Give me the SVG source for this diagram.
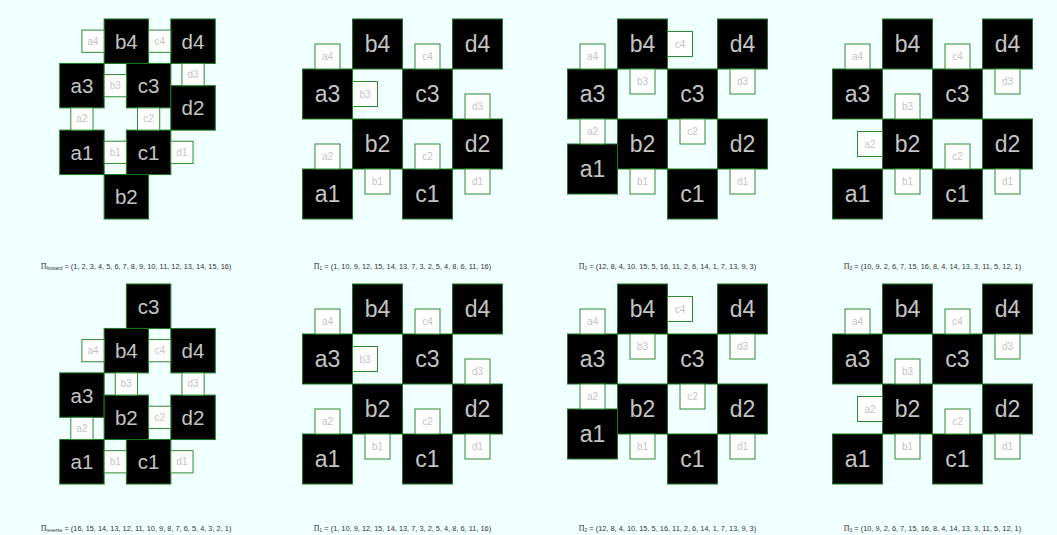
<svg xmlns="http://www.w3.org/2000/svg" width="1057" height="535" viewBox="0 0 1057 535">
<style>
.bg{fill:#f0ffff}
.big{fill:#000;stroke:#1a7a1a;stroke-width:1}
.sm{fill:#fff;stroke:#2f8a2f;stroke-width:1}
text{font-family:"Liberation Sans",Arial,sans-serif}
.bl22{font-size:20.5px;fill:#c4c4c4;text-anchor:middle;dominant-baseline:central}
.bl25{font-size:23px;fill:#c4c4c4;text-anchor:middle;dominant-baseline:central}
.sl{font-size:10px;fill:#c4c4c4;text-anchor:middle;dominant-baseline:central}
.cap{font-size:7.4px;fill:#333;text-anchor:middle}
.pi{font-family:"Liberation Serif","Times New Roman",serif;font-size:8px}
.sub{font-size:4.8px}
</style>
<rect class="bg" x="0" y="0" width="1057" height="535"/>

<!-- Panel A: forward -->
<g id="panel-forward" transform="translate(59.7,19)">
<g id="A-b4" transform="translate(44.44,0)"><rect class="big" width="44.44" height="44.44"/><text class="bl22" x="22.22" y="22.22">b4</text></g>
<g id="A-d4" transform="translate(111.11,0)"><rect class="big" width="44.44" height="44.44"/><text class="bl22" x="22.22" y="22.22">d4</text></g>
<g id="A-a3" transform="translate(0,44.44)"><rect class="big" width="44.44" height="44.44"/><text class="bl22" x="22.22" y="22.22">a3</text></g>
<g id="A-c3" transform="translate(66.67,44.44)"><rect class="big" width="44.44" height="44.44"/><text class="bl22" x="22.22" y="22.22">c3</text></g>
<g id="A-d2" transform="translate(111.11,66.67)"><rect class="big" width="44.44" height="44.44"/><text class="bl22" x="22.22" y="22.22">d2</text></g>
<g id="A-a1" transform="translate(0,111.11)"><rect class="big" width="44.44" height="44.44"/><text class="bl22" x="22.22" y="22.22">a1</text></g>
<g id="A-c1" transform="translate(66.67,111.11)"><rect class="big" width="44.44" height="44.44"/><text class="bl22" x="22.22" y="22.22">c1</text></g>
<g id="A-b2" transform="translate(44.44,155.56)"><rect class="big" width="44.44" height="44.44"/><text class="bl22" x="22.22" y="22.22">b2</text></g>
<g id="A-a4" transform="translate(22.22,11.11)"><rect class="sm" width="22.22" height="22.22"/><text class="sl" x="11.11" y="11.11">a4</text></g>
<g id="A-c4" transform="translate(88.89,11.11)"><rect class="sm" width="22.22" height="22.22"/><text class="sl" x="11.11" y="11.11">c4</text></g>
<g id="A-b3" transform="translate(44.44,55.56)"><rect class="sm" width="22.22" height="22.22"/><text class="sl" x="11.11" y="11.11">b3</text></g>
<g id="A-d3" transform="translate(122.22,44.44)"><rect class="sm" width="22.22" height="22.22"/><text class="sl" x="11.11" y="11.11">d3</text></g>
<g id="A-a2" transform="translate(11.11,88.89)"><rect class="sm" width="22.22" height="22.22"/><text class="sl" x="11.11" y="11.11">a2</text></g>
<g id="A-c2" transform="translate(77.78,88.89)"><rect class="sm" width="22.22" height="22.22"/><text class="sl" x="11.11" y="11.11">c2</text></g>
<g id="A-b1" transform="translate(44.44,122.22)"><rect class="sm" width="22.22" height="22.22"/><text class="sl" x="11.11" y="11.11">b1</text></g>
<g id="A-d1" transform="translate(111.11,122.22)"><rect class="sm" width="22.22" height="22.22"/><text class="sl" x="11.11" y="11.11">d1</text></g>
</g>

<!-- Panel E: reverse -->
<g id="panel-reverse" transform="translate(59.7,284)">
<g id="E-c3" transform="translate(66.67,0)"><rect class="big" width="44.44" height="44.44"/><text class="bl22" x="22.22" y="22.22">c3</text></g>
<g id="E-b4" transform="translate(44.44,44.44)"><rect class="big" width="44.44" height="44.44"/><text class="bl22" x="22.22" y="22.22">b4</text></g>
<g id="E-d4" transform="translate(111.11,44.44)"><rect class="big" width="44.44" height="44.44"/><text class="bl22" x="22.22" y="22.22">d4</text></g>
<g id="E-a3" transform="translate(0,88.89)"><rect class="big" width="44.44" height="44.44"/><text class="bl22" x="22.22" y="22.22">a3</text></g>
<g id="E-b2" transform="translate(44.44,111.11)"><rect class="big" width="44.44" height="44.44"/><text class="bl22" x="22.22" y="22.22">b2</text></g>
<g id="E-d2" transform="translate(111.11,111.11)"><rect class="big" width="44.44" height="44.44"/><text class="bl22" x="22.22" y="22.22">d2</text></g>
<g id="E-a1" transform="translate(0,155.56)"><rect class="big" width="44.44" height="44.44"/><text class="bl22" x="22.22" y="22.22">a1</text></g>
<g id="E-c1" transform="translate(66.67,155.56)"><rect class="big" width="44.44" height="44.44"/><text class="bl22" x="22.22" y="22.22">c1</text></g>
<g id="E-a4" transform="translate(22.22,55.56)"><rect class="sm" width="22.22" height="22.22"/><text class="sl" x="11.11" y="11.11">a4</text></g>
<g id="E-c4" transform="translate(88.89,55.56)"><rect class="sm" width="22.22" height="22.22"/><text class="sl" x="11.11" y="11.11">c4</text></g>
<g id="E-b3" transform="translate(55.56,88.89)"><rect class="sm" width="22.22" height="22.22"/><text class="sl" x="11.11" y="11.11">b3</text></g>
<g id="E-d3" transform="translate(122.22,88.89)"><rect class="sm" width="22.22" height="22.22"/><text class="sl" x="11.11" y="11.11">d3</text></g>
<g id="E-c2" transform="translate(88.89,122.22)"><rect class="sm" width="22.22" height="22.22"/><text class="sl" x="11.11" y="11.11">c2</text></g>
<g id="E-a2" transform="translate(11.11,133.33)"><rect class="sm" width="22.22" height="22.22"/><text class="sl" x="11.11" y="11.11">a2</text></g>
<g id="E-b1" transform="translate(44.44,166.67)"><rect class="sm" width="22.22" height="22.22"/><text class="sl" x="11.11" y="11.11">b1</text></g>
<g id="E-d1" transform="translate(111.11,166.67)"><rect class="sm" width="22.22" height="22.22"/><text class="sl" x="11.11" y="11.11">d1</text></g>
</g>

<!-- Panels B/F: Pi1 -->
<g id="panel-pi1-top" transform="translate(302.5,19)">
<g id="B-b4" transform="translate(50,0)"><rect class="big" width="50" height="50"/><text class="bl25" x="25" y="25">b4</text></g>
<g id="B-d4" transform="translate(150,0)"><rect class="big" width="50" height="50"/><text class="bl25" x="25" y="25">d4</text></g>
<g id="B-a3" transform="translate(0,50)"><rect class="big" width="50" height="50"/><text class="bl25" x="25" y="25">a3</text></g>
<g id="B-c3" transform="translate(100,50)"><rect class="big" width="50" height="50"/><text class="bl25" x="25" y="25">c3</text></g>
<g id="B-b2" transform="translate(50,100)"><rect class="big" width="50" height="50"/><text class="bl25" x="25" y="25">b2</text></g>
<g id="B-d2" transform="translate(150,100)"><rect class="big" width="50" height="50"/><text class="bl25" x="25" y="25">d2</text></g>
<g id="B-a1" transform="translate(0,150)"><rect class="big" width="50" height="50"/><text class="bl25" x="25" y="25">a1</text></g>
<g id="B-c1" transform="translate(100,150)"><rect class="big" width="50" height="50"/><text class="bl25" x="25" y="25">c1</text></g>
<g id="B-a4" transform="translate(12.5,25)"><rect class="sm" width="25" height="25"/><text class="sl" x="12.5" y="12.5">a4</text></g>
<g id="B-c4" transform="translate(112.5,25)"><rect class="sm" width="25" height="25"/><text class="sl" x="12.5" y="12.5">c4</text></g>
<g id="B-b3" transform="translate(50,62.5)"><rect class="sm" width="25" height="25"/><text class="sl" x="12.5" y="12.5">b3</text></g>
<g id="B-d3" transform="translate(162.5,75)"><rect class="sm" width="25" height="25"/><text class="sl" x="12.5" y="12.5">d3</text></g>
<g id="B-a2" transform="translate(12.5,125)"><rect class="sm" width="25" height="25"/><text class="sl" x="12.5" y="12.5">a2</text></g>
<g id="B-c2" transform="translate(112.5,125)"><rect class="sm" width="25" height="25"/><text class="sl" x="12.5" y="12.5">c2</text></g>
<g id="B-b1" transform="translate(62.5,150)"><rect class="sm" width="25" height="25"/><text class="sl" x="12.5" y="12.5">b1</text></g>
<g id="B-d1" transform="translate(162.5,150)"><rect class="sm" width="25" height="25"/><text class="sl" x="12.5" y="12.5">d1</text></g>
</g>
<g id="panel-pi1-bottom" transform="translate(302.5,284)">
<g id="F-b4" transform="translate(50,0)"><rect class="big" width="50" height="50"/><text class="bl25" x="25" y="25">b4</text></g>
<g id="F-d4" transform="translate(150,0)"><rect class="big" width="50" height="50"/><text class="bl25" x="25" y="25">d4</text></g>
<g id="F-a3" transform="translate(0,50)"><rect class="big" width="50" height="50"/><text class="bl25" x="25" y="25">a3</text></g>
<g id="F-c3" transform="translate(100,50)"><rect class="big" width="50" height="50"/><text class="bl25" x="25" y="25">c3</text></g>
<g id="F-b2" transform="translate(50,100)"><rect class="big" width="50" height="50"/><text class="bl25" x="25" y="25">b2</text></g>
<g id="F-d2" transform="translate(150,100)"><rect class="big" width="50" height="50"/><text class="bl25" x="25" y="25">d2</text></g>
<g id="F-a1" transform="translate(0,150)"><rect class="big" width="50" height="50"/><text class="bl25" x="25" y="25">a1</text></g>
<g id="F-c1" transform="translate(100,150)"><rect class="big" width="50" height="50"/><text class="bl25" x="25" y="25">c1</text></g>
<g id="F-a4" transform="translate(12.5,25)"><rect class="sm" width="25" height="25"/><text class="sl" x="12.5" y="12.5">a4</text></g>
<g id="F-c4" transform="translate(112.5,25)"><rect class="sm" width="25" height="25"/><text class="sl" x="12.5" y="12.5">c4</text></g>
<g id="F-b3" transform="translate(50,62.5)"><rect class="sm" width="25" height="25"/><text class="sl" x="12.5" y="12.5">b3</text></g>
<g id="F-d3" transform="translate(162.5,75)"><rect class="sm" width="25" height="25"/><text class="sl" x="12.5" y="12.5">d3</text></g>
<g id="F-a2" transform="translate(12.5,125)"><rect class="sm" width="25" height="25"/><text class="sl" x="12.5" y="12.5">a2</text></g>
<g id="F-c2" transform="translate(112.5,125)"><rect class="sm" width="25" height="25"/><text class="sl" x="12.5" y="12.5">c2</text></g>
<g id="F-b1" transform="translate(62.5,150)"><rect class="sm" width="25" height="25"/><text class="sl" x="12.5" y="12.5">b1</text></g>
<g id="F-d1" transform="translate(162.5,150)"><rect class="sm" width="25" height="25"/><text class="sl" x="12.5" y="12.5">d1</text></g>
</g>

<!-- Panels C/G: Pi2 -->
<g id="panel-pi2-top" transform="translate(567.5,19)">
<g id="C-b4" transform="translate(50,0)"><rect class="big" width="50" height="50"/><text class="bl25" x="25" y="25">b4</text></g>
<g id="C-d4" transform="translate(150,0)"><rect class="big" width="50" height="50"/><text class="bl25" x="25" y="25">d4</text></g>
<g id="C-a3" transform="translate(0,50)"><rect class="big" width="50" height="50"/><text class="bl25" x="25" y="25">a3</text></g>
<g id="C-c3" transform="translate(100,50)"><rect class="big" width="50" height="50"/><text class="bl25" x="25" y="25">c3</text></g>
<g id="C-b2" transform="translate(50,100)"><rect class="big" width="50" height="50"/><text class="bl25" x="25" y="25">b2</text></g>
<g id="C-d2" transform="translate(150,100)"><rect class="big" width="50" height="50"/><text class="bl25" x="25" y="25">d2</text></g>
<g id="C-a1" transform="translate(0,125)"><rect class="big" width="50" height="50"/><text class="bl25" x="25" y="25">a1</text></g>
<g id="C-c1" transform="translate(100,150)"><rect class="big" width="50" height="50"/><text class="bl25" x="25" y="25">c1</text></g>
<g id="C-a4" transform="translate(12.5,25)"><rect class="sm" width="25" height="25"/><text class="sl" x="12.5" y="12.5">a4</text></g>
<g id="C-c4" transform="translate(100,12.5)"><rect class="sm" width="25" height="25"/><text class="sl" x="12.5" y="12.5">c4</text></g>
<g id="C-b3" transform="translate(62.5,50)"><rect class="sm" width="25" height="25"/><text class="sl" x="12.5" y="12.5">b3</text></g>
<g id="C-d3" transform="translate(162.5,50)"><rect class="sm" width="25" height="25"/><text class="sl" x="12.5" y="12.5">d3</text></g>
<g id="C-a2" transform="translate(12.5,100)"><rect class="sm" width="25" height="25"/><text class="sl" x="12.5" y="12.5">a2</text></g>
<g id="C-c2" transform="translate(112.5,100)"><rect class="sm" width="25" height="25"/><text class="sl" x="12.5" y="12.5">c2</text></g>
<g id="C-b1" transform="translate(62.5,150)"><rect class="sm" width="25" height="25"/><text class="sl" x="12.5" y="12.5">b1</text></g>
<g id="C-d1" transform="translate(162.5,150)"><rect class="sm" width="25" height="25"/><text class="sl" x="12.5" y="12.5">d1</text></g>
</g>
<g id="panel-pi2-bottom" transform="translate(567.5,284)">
<g id="G-b4" transform="translate(50,0)"><rect class="big" width="50" height="50"/><text class="bl25" x="25" y="25">b4</text></g>
<g id="G-d4" transform="translate(150,0)"><rect class="big" width="50" height="50"/><text class="bl25" x="25" y="25">d4</text></g>
<g id="G-a3" transform="translate(0,50)"><rect class="big" width="50" height="50"/><text class="bl25" x="25" y="25">a3</text></g>
<g id="G-c3" transform="translate(100,50)"><rect class="big" width="50" height="50"/><text class="bl25" x="25" y="25">c3</text></g>
<g id="G-b2" transform="translate(50,100)"><rect class="big" width="50" height="50"/><text class="bl25" x="25" y="25">b2</text></g>
<g id="G-d2" transform="translate(150,100)"><rect class="big" width="50" height="50"/><text class="bl25" x="25" y="25">d2</text></g>
<g id="G-a1" transform="translate(0,125)"><rect class="big" width="50" height="50"/><text class="bl25" x="25" y="25">a1</text></g>
<g id="G-c1" transform="translate(100,150)"><rect class="big" width="50" height="50"/><text class="bl25" x="25" y="25">c1</text></g>
<g id="G-a4" transform="translate(12.5,25)"><rect class="sm" width="25" height="25"/><text class="sl" x="12.5" y="12.5">a4</text></g>
<g id="G-c4" transform="translate(100,12.5)"><rect class="sm" width="25" height="25"/><text class="sl" x="12.5" y="12.5">c4</text></g>
<g id="G-b3" transform="translate(62.5,50)"><rect class="sm" width="25" height="25"/><text class="sl" x="12.5" y="12.5">b3</text></g>
<g id="G-d3" transform="translate(162.5,50)"><rect class="sm" width="25" height="25"/><text class="sl" x="12.5" y="12.5">d3</text></g>
<g id="G-a2" transform="translate(12.5,100)"><rect class="sm" width="25" height="25"/><text class="sl" x="12.5" y="12.5">a2</text></g>
<g id="G-c2" transform="translate(112.5,100)"><rect class="sm" width="25" height="25"/><text class="sl" x="12.5" y="12.5">c2</text></g>
<g id="G-b1" transform="translate(62.5,150)"><rect class="sm" width="25" height="25"/><text class="sl" x="12.5" y="12.5">b1</text></g>
<g id="G-d1" transform="translate(162.5,150)"><rect class="sm" width="25" height="25"/><text class="sl" x="12.5" y="12.5">d1</text></g>
</g>

<!-- Panels D/H: Pi3 -->
<g id="panel-pi3-top" transform="translate(832.5,19)">
<g id="D-b4" transform="translate(50,0)"><rect class="big" width="50" height="50"/><text class="bl25" x="25" y="25">b4</text></g>
<g id="D-d4" transform="translate(150,0)"><rect class="big" width="50" height="50"/><text class="bl25" x="25" y="25">d4</text></g>
<g id="D-a3" transform="translate(0,50)"><rect class="big" width="50" height="50"/><text class="bl25" x="25" y="25">a3</text></g>
<g id="D-c3" transform="translate(100,50)"><rect class="big" width="50" height="50"/><text class="bl25" x="25" y="25">c3</text></g>
<g id="D-b2" transform="translate(50,100)"><rect class="big" width="50" height="50"/><text class="bl25" x="25" y="25">b2</text></g>
<g id="D-d2" transform="translate(150,100)"><rect class="big" width="50" height="50"/><text class="bl25" x="25" y="25">d2</text></g>
<g id="D-a1" transform="translate(0,150)"><rect class="big" width="50" height="50"/><text class="bl25" x="25" y="25">a1</text></g>
<g id="D-c1" transform="translate(100,150)"><rect class="big" width="50" height="50"/><text class="bl25" x="25" y="25">c1</text></g>
<g id="D-a4" transform="translate(12.5,25)"><rect class="sm" width="25" height="25"/><text class="sl" x="12.5" y="12.5">a4</text></g>
<g id="D-c4" transform="translate(112.5,25)"><rect class="sm" width="25" height="25"/><text class="sl" x="12.5" y="12.5">c4</text></g>
<g id="D-d3" transform="translate(162.5,50)"><rect class="sm" width="25" height="25"/><text class="sl" x="12.5" y="12.5">d3</text></g>
<g id="D-b3" transform="translate(62.5,75)"><rect class="sm" width="25" height="25"/><text class="sl" x="12.5" y="12.5">b3</text></g>
<g id="D-a2" transform="translate(25,112.5)"><rect class="sm" width="25" height="25"/><text class="sl" x="12.5" y="12.5">a2</text></g>
<g id="D-c2" transform="translate(112.5,125)"><rect class="sm" width="25" height="25"/><text class="sl" x="12.5" y="12.5">c2</text></g>
<g id="D-b1" transform="translate(62.5,150)"><rect class="sm" width="25" height="25"/><text class="sl" x="12.5" y="12.5">b1</text></g>
<g id="D-d1" transform="translate(162.5,150)"><rect class="sm" width="25" height="25"/><text class="sl" x="12.5" y="12.5">d1</text></g>
</g>
<g id="panel-pi3-bottom" transform="translate(832.5,284)">
<g id="H-b4" transform="translate(50,0)"><rect class="big" width="50" height="50"/><text class="bl25" x="25" y="25">b4</text></g>
<g id="H-d4" transform="translate(150,0)"><rect class="big" width="50" height="50"/><text class="bl25" x="25" y="25">d4</text></g>
<g id="H-a3" transform="translate(0,50)"><rect class="big" width="50" height="50"/><text class="bl25" x="25" y="25">a3</text></g>
<g id="H-c3" transform="translate(100,50)"><rect class="big" width="50" height="50"/><text class="bl25" x="25" y="25">c3</text></g>
<g id="H-b2" transform="translate(50,100)"><rect class="big" width="50" height="50"/><text class="bl25" x="25" y="25">b2</text></g>
<g id="H-d2" transform="translate(150,100)"><rect class="big" width="50" height="50"/><text class="bl25" x="25" y="25">d2</text></g>
<g id="H-a1" transform="translate(0,150)"><rect class="big" width="50" height="50"/><text class="bl25" x="25" y="25">a1</text></g>
<g id="H-c1" transform="translate(100,150)"><rect class="big" width="50" height="50"/><text class="bl25" x="25" y="25">c1</text></g>
<g id="H-a4" transform="translate(12.5,25)"><rect class="sm" width="25" height="25"/><text class="sl" x="12.5" y="12.5">a4</text></g>
<g id="H-c4" transform="translate(112.5,25)"><rect class="sm" width="25" height="25"/><text class="sl" x="12.5" y="12.5">c4</text></g>
<g id="H-d3" transform="translate(162.5,50)"><rect class="sm" width="25" height="25"/><text class="sl" x="12.5" y="12.5">d3</text></g>
<g id="H-b3" transform="translate(62.5,75)"><rect class="sm" width="25" height="25"/><text class="sl" x="12.5" y="12.5">b3</text></g>
<g id="H-a2" transform="translate(25,112.5)"><rect class="sm" width="25" height="25"/><text class="sl" x="12.5" y="12.5">a2</text></g>
<g id="H-c2" transform="translate(112.5,125)"><rect class="sm" width="25" height="25"/><text class="sl" x="12.5" y="12.5">c2</text></g>
<g id="H-b1" transform="translate(62.5,150)"><rect class="sm" width="25" height="25"/><text class="sl" x="12.5" y="12.5">b1</text></g>
<g id="H-d1" transform="translate(162.5,150)"><rect class="sm" width="25" height="25"/><text class="sl" x="12.5" y="12.5">d1</text></g>
</g>

<!-- Captions -->
<g id="captions">
<text class="cap" x="136" y="268.5"><tspan class="pi">Π</tspan><tspan class="sub" dy="1.5">forward</tspan><tspan dy="-1.5"> = (1, 2, 3, 4, 5, 6, 7, 8, 9, 10, 11, 12, 13, 14, 15, 16)</tspan></text>
<text class="cap" x="402.5" y="268.5"><tspan class="pi">Π</tspan><tspan class="sub" dy="1.5">1</tspan><tspan dy="-1.5"> = (1, 10, 9, 12, 15, 14, 13, 7, 3, 2, 5, 4, 8, 6, 11, 16)</tspan></text>
<text class="cap" x="667.5" y="268.5"><tspan class="pi">Π</tspan><tspan class="sub" dy="1.5">2</tspan><tspan dy="-1.5"> = (12, 8, 4, 10, 15, 5, 16, 11, 2, 6, 14, 1, 7, 13, 9, 3)</tspan></text>
<text class="cap" x="932.5" y="268.5"><tspan class="pi">Π</tspan><tspan class="sub" dy="1.5">3</tspan><tspan dy="-1.5"> = (10, 9, 2, 6, 7, 15, 16, 8, 4, 14, 13, 3, 11, 5, 12, 1)</tspan></text>
<text class="cap" x="136" y="530.5"><tspan class="pi">Π</tspan><tspan class="sub" dy="1.5">reverse</tspan><tspan dy="-1.5"> = (16, 15, 14, 13, 12, 11, 10, 9, 8, 7, 6, 5, 4, 3, 2, 1)</tspan></text>
<text class="cap" x="402.5" y="530.5"><tspan class="pi">Π</tspan><tspan class="sub" dy="1.5">1</tspan><tspan dy="-1.5"> = (1, 10, 9, 12, 15, 14, 13, 7, 3, 2, 5, 4, 8, 6, 11, 16)</tspan></text>
<text class="cap" x="667.5" y="530.5"><tspan class="pi">Π</tspan><tspan class="sub" dy="1.5">2</tspan><tspan dy="-1.5"> = (12, 8, 4, 10, 15, 5, 16, 11, 2, 6, 14, 1, 7, 13, 9, 3)</tspan></text>
<text class="cap" x="932.5" y="530.5"><tspan class="pi">Π</tspan><tspan class="sub" dy="1.5">3</tspan><tspan dy="-1.5"> = (10, 9, 2, 6, 7, 15, 16, 8, 4, 14, 13, 3, 11, 5, 12, 1)</tspan></text>
</g>
</svg>
